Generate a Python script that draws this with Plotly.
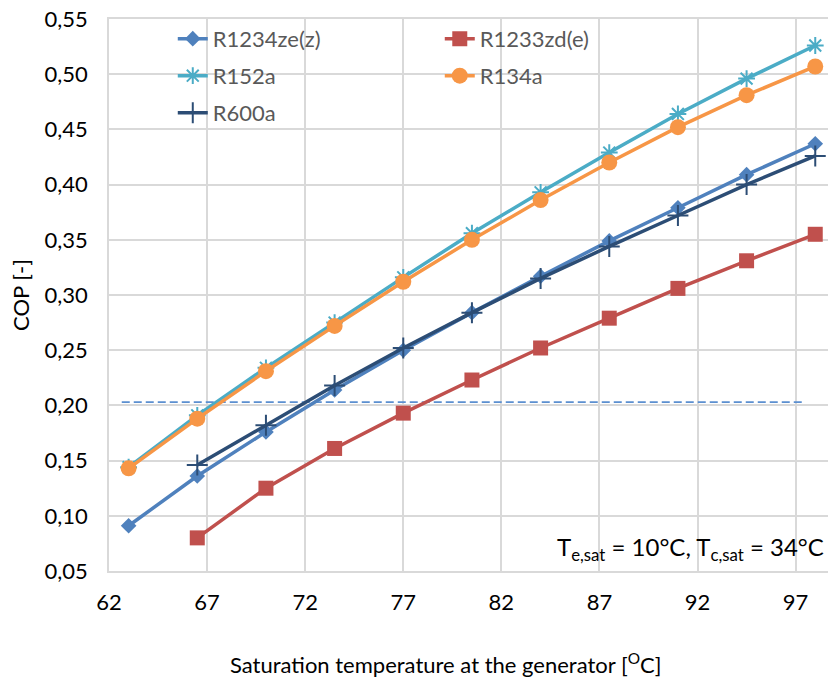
import plotly.graph_objects as go

# Data
t_gen = [63, 66.5, 70, 73.5, 77, 80.5, 84, 87.5, 91, 94.5, 98]
t_gen_r1233 = [66.5, 70, 73.5, 77, 80.5, 84, 87.5, 91, 94.5, 98]
t_gen_r600 = [66.5, 70, 73.5, 77, 80.5, 84, 87.5, 91, 94.5, 98]

cop_r1234zez = [0.091, 0.136, 0.176, 0.214, 0.250, 0.284, 0.317, 0.349, 0.379, 0.409, 0.437]
cop_r1233zde = [0.080, 0.125, 0.161, 0.193, 0.223, 0.252, 0.279, 0.306, 0.331, 0.355]
cop_r152a = [0.144, 0.191, 0.234, 0.275, 0.316, 0.356, 0.393, 0.429, 0.464, 0.496, 0.526]
cop_r134a = [0.143, 0.188, 0.231, 0.272, 0.312, 0.350, 0.386, 0.420, 0.452, 0.481, 0.507]
cop_r600a = [0.146, 0.182, 0.218, 0.252, 0.284, 0.315, 0.344, 0.372, 0.400, 0.426]

ref_x = [62.65, 97.4]
ref_y = [0.203, 0.203]

FONT = "Lato"

fig = go.Figure()

fig.add_trace(go.Scatter(
    x=ref_x, y=ref_y, mode="lines", showlegend=False, hoverinfo="skip",
    line=dict(color="#5B8FD0", width=1.8, dash="8px,4px")))

fig.add_trace(go.Scatter(
    x=t_gen, y=cop_r1234zez, name="R1234ze(z)", mode="lines+markers",
    line=dict(color="#4F81BD", width=3.5),
    marker=dict(symbol="diamond", size=12, color="#4F81BD"), legend="legend"))
fig.add_trace(go.Scatter(
    x=t_gen_r1233, y=cop_r1233zde, name="R1233zd(e)", mode="lines+markers",
    line=dict(color="#C0504D", width=3.5),
    marker=dict(symbol="square", size=15, color="#C0504D"), legend="legend"))
fig.add_trace(go.Scatter(
    x=t_gen, y=cop_r152a, name="R152a", mode="lines+markers",
    line=dict(color="#4BACC6", width=3.5),
    marker=dict(symbol="asterisk-open", size=14, color="#4BACC6",
                line=dict(color="#4BACC6", width=2)), legend="legend2"))
fig.add_trace(go.Scatter(
    x=t_gen, y=cop_r134a, name="R134a", mode="lines+markers",
    line=dict(color="#F79646", width=3.5),
    marker=dict(symbol="circle", size=16, color="#F79646"), legend="legend2"))
fig.add_trace(go.Scatter(
    x=t_gen_r600, y=cop_r600a, name="R600a", mode="lines+markers",
    line=dict(color="#2C4D75", width=3.5),
    marker=dict(symbol="cross-thin-open", size=15, color="#2C4D75",
                line=dict(color="#2C4D75", width=2)), legend="legend3"))

grid = "#D9D9D9"
leg_common = dict(orientation="h", xref="paper", yref="paper", xanchor="left",
                  yanchor="middle", bgcolor="rgba(0,0,0,0)",
                  font=dict(family=FONT, size=22, color="#595959"),
                  entrywidth=222, entrywidthmode="pixels")

fig.update_layout(
    width=828, height=679,
    margin=dict(l=109, r=0, t=19, b=108, autoexpand=False),
    paper_bgcolor="white", plot_bgcolor="white",
    separators=", ",
    font=dict(family=FONT, size=22, color="black"),
    xaxis=dict(range=[62, 98.65], tick0=62, dtick=5, showgrid=True, automargin=False,
               gridcolor=grid, gridwidth=1.5, showline=True, linecolor=grid,
               linewidth=1.5, mirror=True, zeroline=False, ticks="",
               ticklabeloverflow="allow",
               ticklabelstandoff=11, tickfont=dict(family=FONT, size=22, color="black")),
    yaxis=dict(range=[0.05, 0.55], tick0=0.05, dtick=0.05, tickformat=".2f",
               automargin=False, ticklabeloverflow="allow",
               showgrid=True, gridcolor=grid, gridwidth=1.5, showline=True,
               linecolor=grid, linewidth=1.5, zeroline=False, ticks="",
               ticklabelstandoff=15,
               tickfont=dict(family=FONT, size=22, color="black"),
               title=dict(text="COP [-]", font=dict(family=FONT, size=22, color="black"),
                          standoff=9)),
    legend=dict(x=0.0887, y=0.964, **leg_common),
    legend2=dict(x=0.0887, y=0.897, **leg_common),
    legend3=dict(x=0.0887, y=0.830, **leg_common),
    annotations=[
        dict(text="Saturation temperature at the generator [<sup>O</sup>C]",
             xref="paper", yref="paper", x=0.4677, y=-0.167, xanchor="center",
             yanchor="middle", showarrow=False,
             font=dict(family=FONT, size=22, color="black")),
        dict(text="T<sub>e,sat</sub> = 10°C, T<sub>c,sat</sub> = 34°C",
             xref="paper", yref="paper", x=0.997, y=0.04, xanchor="right",
             yanchor="middle", showarrow=False,
             font=dict(family=FONT, size=24, color="black")),
    ],
)

fig.write_html("out.html",
               config={"displayModeBar": False},
               post_script="document.body.style.margin='0';document.body.style.overflow='hidden';")
